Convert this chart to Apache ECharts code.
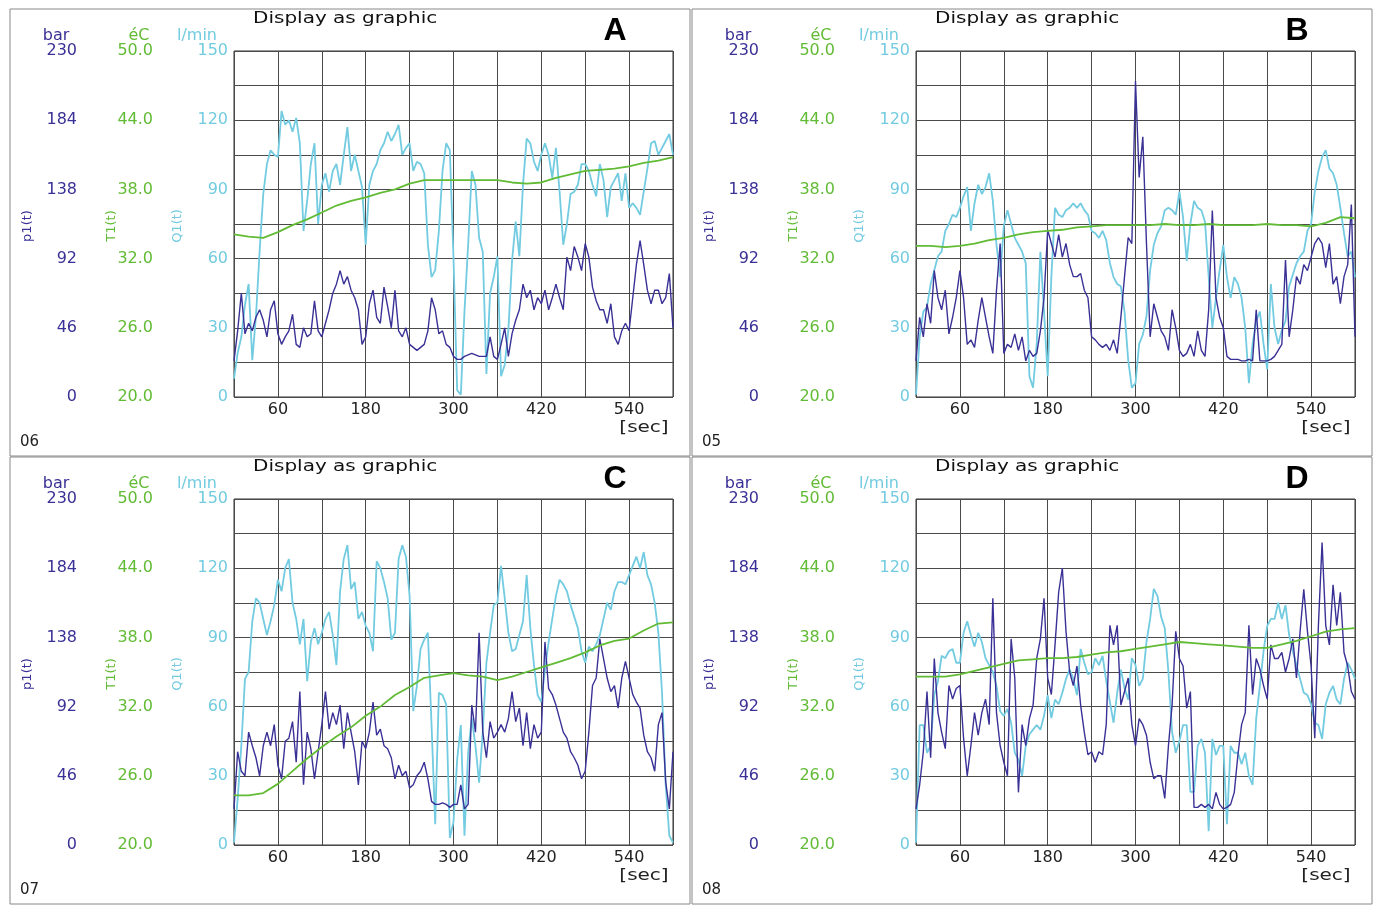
<!DOCTYPE html>
<html>
<head>
<meta charset="UTF-8">
<title>Display as graphic</title>
<script src="https://cdn.jsdelivr.net/npm/echarts@6/dist/echarts.min.js"></script>
<style>
  html, body { margin: 0; padding: 0; background: #fff; }
  #main { width: 1375px; height: 909px; }
</style>
</head>
<body>
<div id="main"></div>
<script>
// sample times [sec]
var secs = [];
for (var s = 0; s <= 600; s += 5) secs.push(s);
var tSecs = [];
for (var s2 = 0; s2 <= 600; s2 += 20) tSecs.push(s2);

// axis ticks
var barTicks = [0, 46, 92, 138, 184, 230];
var degTicks = [20, 26, 32, 38, 44, 50];
var flowTicks = [0, 30, 60, 90, 120, 150];
var secLabels = [60, 180, 300, 420, 540];

// panel A (06)
var qA = [8,19,26,40,49,16,35,63,88,101, 107,105,104,124,118,120,115,121,110,72,
  85,101,110,75,92,97,89,98,101,92, 105,117,98,105,98,91,66,92,98,101,
  107,110,115,111,114,118,105,108,110,98, 102,101,97,66,52,55,72,98,110,107,
  60,3,1,37,66,98,92,69,63,10, 45,52,61,9,14,29,59,76,61,92,
  112,110,102,98,105,110,105,95,108,89, 66,75,88,89,92,101,101,98,92,87,
  101,94,78,91,94,97,85,97,82,84, 82,79,89,99,110,111,105,108,111,114, 105];
var pA = [24,44,69,42,49,44,53,58,51,40, 58,64,42,35,40,44,55,35,33,46,
  40,42,64,44,40,49,58,69,75,84, 75,80,71,66,58,35,40,62,71,53,
  49,73,60,46,71,44,40,46,35,33, 31,33,35,44,66,58,42,44,35,33,
  27,25,25,27,28,29,28,27,27,27, 40,27,25,35,46,27,42,51,58,75,
  66,71,58,66,62,71,58,66,75,66, 58,93,84,100,93,84,102,93,73,64,
  58,58,49,62,40,35,44,49,44,66, 88,104,88,71,62,71,71,62,66,82, 46];
var tA = [34.1,33.9,33.8,34.3,34.9,35.4,36.0,36.6,37.0,37.3,37.7,38.0,38.5,38.8,38.8,38.8,
  38.8,38.8,38.8,38.6,38.5,38.6,39.0,39.3,39.6,39.7,39.8,40.0,40.3,40.5,40.8];

// panel B (05)
var qB = [1,26,37,39,49,55,61,63,72,75, 79,78,82,87,91,72,84,92,88,91,
  97,85,66,52,74,81,75,69,66,63, 58,9,4,23,63,37,9,52,82,79,
  78,81,82,84,82,84,81,79,72,71, 69,72,68,58,52,49,48,37,16,4,
  6,23,27,35,55,66,71,74,81,82, 81,79,89,78,59,75,85,82,81,76,
  52,30,43,55,66,52,43,52,49,43, 30,6,23,33,37,23,12,49,30,23,
  29,33,48,53,58,61,63,72,75,89, 98,104,107,99,97,92,82,71,61,63, 52];
var pB = [24,53,40,62,49,84,66,58,71,42, 53,66,84,66,35,38,33,51,66,53,
  40,29,71,102,29,35,33,42,31,40, 24,31,27,29,44,66,111,102,93,108,
  93,102,88,80,80,82,71,66,40,38, 35,33,35,31,38,29,53,80,106,102,
  210,146,173,102,40,62,53,44,40,31, 58,46,31,27,29,35,27,44,31,27,
  58,124,66,53,46,27,25,25,25,24, 24,25,24,58,24,24,24,25,27,31,
  35,91,40,58,80,75,88,84,93,102, 106,102,86,102,75,80,62,80,88,128, 40];
var tB = [33.1,33.1,33.0,33.1,33.3,33.6,33.8,34.1,34.3,34.4,34.5,34.7,34.8,34.9,34.9,34.9,
  34.9,35.0,34.9,34.9,35.0,34.9,34.9,34.9,35.0,34.9,34.9,34.8,35.1,35.6,35.5];

// panel C (07)
var qC = [1,20,43,72,75,97,107,105,98,91, 97,104,115,110,120,124,105,98,87,98,
  71,88,94,87,92,98,101,91,78,110, 124,130,111,114,98,101,95,92,84,123,
  120,114,107,89,92,124,130,125,108,58, 69,85,89,92,52,9,66,65,61,3,
  10,37,52,4,40,55,43,27,49,79, 92,104,105,121,107,92,84,85,91,97,
  117,94,78,65,62,76,88,98,108,115, 113,110,104,99,94,84,79,86,84,87,
  91,98,105,102,110,114,114,113,117,121, 125,120,127,117,113,105,92,66,26,4, 1];
var pC = [24,62,49,46,75,66,58,46,66,75, 66,80,53,44,69,71,82,55,102,40,
  75,64,44,62,80,102,77,88,80,93, 64,88,75,62,40,69,64,75,95,73,
  77,66,64,58,44,53,46,49,38,40, 46,49,55,44,29,27,27,28,27,25,
  27,27,40,24,27,93,75,141,75,58, 82,71,75,80,75,84,102,82,91,66,
  88,64,80,71,75,135,104,100,93,84, 75,71,62,58,53,44,49,75,106,111,
  137,124,111,102,106,91,111,122,111,100, 95,91,73,62,58,49,80,88,42,24, 62];
var tC = [24.3,24.3,24.5,25.3,26.4,27.5,28.5,29.4,30.2,31.2,32.0,33.0,33.7,34.5,34.7,34.9,
  34.7,34.6,34.3,34.6,35.0,35.4,35.8,36.2,36.7,37.3,37.7,37.9,38.6,39.2,39.3];

// panel D (08)
var qD = [1,52,52,40,43,65,71,82,81,84, 85,79,79,92,97,91,86,92,88,81,
  78,75,69,58,56,59,53,40,37,30, 43,48,50,52,50,56,65,55,63,61,
  66,72,76,72,65,85,79,74,75,81, 78,82,71,62,53,66,76,68,63,81,
  78,69,72,88,98,111,108,99,94,75, 49,40,45,52,52,23,23,43,46,40,
  6,46,39,43,43,9,43,40,40,35, 40,30,26,55,69,84,95,98,98,105,
  98,104,91,84,78,72,66,65,61,53, 52,46,61,66,69,63,61,72,79,76, 72];
var pD = [24,40,62,102,58,124,88,75,64,106, 97,104,106,71,46,66,88,73,88,97,
  80,164,88,66,55,46,137,111,35,80, 66,84,93,124,137,164,111,100,133,168,
  184,142,115,106,119,93,75,60,62,55, 62,60,80,146,133,146,93,102,111,80,
  66,84,80,73,55,44,46,46,31,66, 93,142,124,119,91,102,25,25,27,25,
  27,24,35,27,24,25,27,35,60,80, 88,146,100,124,117,106,97,133,124,124,
  128,115,124,137,111,142,170,142,119,71, 146,201,146,133,173,146,168,128,119,102, 97];
var tD = [34.6,34.6,34.6,34.8,35.1,35.4,35.7,36.0,36.1,36.2,36.2,36.3,36.5,36.7,36.8,37.0,
  37.2,37.4,37.6,37.5,37.4,37.3,37.2,37.1,37.1,37.4,37.7,38.1,38.5,38.7,38.8];

var colP = '#3a3196';
var colT = '#62bb35';
var colQ = '#72cbe0';
var font = 'DejaVu Sans';

var panels = [
  { letter: 'A', code: '06', left: 234, top: 51, q: qA, p: pA, t: tA },
  { letter: 'B', code: '05', left: 916, top: 51, q: qB, p: pB, t: tB },
  { letter: 'C', code: '07', left: 234, top: 499, q: qC, p: pC, t: tC },
  { letter: 'D', code: '08', left: 916, top: 499, q: qD, p: pD, t: tD }
];

var grids = [], xAxes = [], yAxes = [], series = [], graphics = [];

function txt(x, y, text, color, size, extra) {
  var o = {
    type: 'text', x: x, y: y, silent: true,
    style: { text: text, fill: color, font: size + 'px "' + font + '"', textAlign: 'center', textVerticalAlign: 'middle' }
  };
  if (extra) for (var k in extra) o[k] = extra[k];
  return o;
}

panels.forEach(function(pn, i) {
  var ox = pn.left - 234, oy = pn.top - 51;
  grids.push({ left: pn.left, top: pn.top, width: 439, height: 346, show: true, borderColor: '#333', borderWidth: 1 });

  xAxes.push({
    type: 'value', gridIndex: i, min: 0, max: 600, interval: 60,
    axisLine: { show: false }, axisTick: { show: false },
    axisLabel: {
      color: '#222', fontSize: 16, fontFamily: font, margin: 5,
      formatter: function(v) { return secLabels.indexOf(v) >= 0 ? String(v) : ''; }
    },
    splitLine: { show: true, lineStyle: { color: '#4a4a4a', width: 1 } }
  });

  // l/min axis carries the grid rows
  yAxes.push({
    type: 'value', gridIndex: i, min: 0, max: 150, interval: 15, position: 'left',
    axisLine: { show: false }, axisTick: { show: false },
    axisLabel: {
      color: colQ, fontSize: 16, fontFamily: font, margin: 6,
      formatter: function(v) { return flowTicks.indexOf(v) >= 0 ? String(v) : ''; }
    },
    splitLine: { show: true, lineStyle: { color: '#4a4a4a', width: 1 } }
  });
  // deg C axis, plotted as offset from 20
  yAxes.push({
    type: 'value', gridIndex: i, min: 0, max: 30, interval: 6, position: 'left', offset: 75,
    axisLine: { show: false }, axisTick: { show: false }, splitLine: { show: false },
    axisLabel: {
      color: colT, fontSize: 16, fontFamily: font, margin: 6,
      formatter: function(v) { return (v + degTicks[0]).toFixed(1); }
    }
  });
  // bar axis
  yAxes.push({
    type: 'value', gridIndex: i, min: 0, max: 230, interval: 46, position: 'left', offset: 151,
    axisLine: { show: false }, axisTick: { show: false }, splitLine: { show: false },
    axisLabel: {
      color: colP, fontSize: 16, fontFamily: font, margin: 6,
      formatter: function(v) { return barTicks.indexOf(v) >= 0 ? String(v) : ''; }
    }
  });

  series.push({
    name: 'Q1(t)', type: 'line', xAxisIndex: i, yAxisIndex: i * 3, showSymbol: false, animation: false,
    lineStyle: { color: colQ, width: 1.8 }, itemStyle: { color: colQ },
    data: secs.map(function(x, k) { return [x, pn.q[k]]; })
  });
  series.push({
    name: 'p1(t)', type: 'line', xAxisIndex: i, yAxisIndex: i * 3 + 2, showSymbol: false, animation: false,
    lineStyle: { color: colP, width: 1.4 }, itemStyle: { color: colP },
    data: secs.map(function(x, k) { return [x, pn.p[k]]; })
  });
  series.push({
    name: 'T1(t)', type: 'line', xAxisIndex: i, yAxisIndex: i * 3 + 1, showSymbol: false, animation: false,
    lineStyle: { color: colT, width: 1.8 }, itemStyle: { color: colT },
    data: tSecs.map(function(x, k) { return [x, pn.t[k] - degTicks[0]]; })
  });

  // panel frame and texts
  graphics.push({ type: 'rect', silent: true, shape: { x: 10 + ox, y: 9 + oy, width: 680, height: 447 },
    style: { fill: 'none', stroke: '#888', lineWidth: 1 } });
  graphics.push({ type: 'text', x: 253 + ox, y: 19 + oy, scaleX: 1.25, silent: true,
    style: { text: 'Display as graphic', fill: '#111', font: '16px "' + font + '"', textAlign: 'left', textVerticalAlign: 'middle' } });
  graphics.push({ type: 'text', x: 615 + ox, y: 31 + oy, silent: true,
    style: { text: pn.letter, fill: '#000', font: 'bold 32px "Liberation Sans"', textAlign: 'center', textVerticalAlign: 'middle' } });
  graphics.push(txt(56 + ox, 36 + oy, 'bar', colP, 16));
  graphics.push(txt(139 + ox, 36 + oy, 'éC', colT, 16));
  graphics.push(txt(197 + ox, 36 + oy, 'l/min', colQ, 16));
  graphics.push(txt(28 + ox, 226 + oy, 'p1(t)', colP, 13, { rotation: Math.PI / 2 }));
  graphics.push(txt(112 + ox, 226 + oy, 'T1(t)', colT, 13, { rotation: Math.PI / 2 }));
  graphics.push(txt(178 + ox, 226 + oy, 'Q1(t)', colQ, 13, { rotation: Math.PI / 2 }));
  graphics.push({ type: 'text', x: 644 + ox, y: 428 + oy, scaleX: 1.25, silent: true,
    style: { text: '[sec]', fill: '#222', font: '16px "' + font + '"', textAlign: 'center', textVerticalAlign: 'middle' } });
  graphics.push({ type: 'text', x: 20 + ox, y: 442 + oy, silent: true,
    style: { text: pn.code, fill: '#222', font: '15px "' + font + '"', textAlign: 'left', textVerticalAlign: 'middle' } });
});

var myChart = echarts.init(document.getElementById('main'), null, { renderer: 'canvas' });
myChart.setOption({
  backgroundColor: '#fff',
  animation: false,
  grid: grids,
  xAxis: xAxes,
  yAxis: yAxes,
  series: series,
  graphic: graphics
});
</script>
</body>
</html>
